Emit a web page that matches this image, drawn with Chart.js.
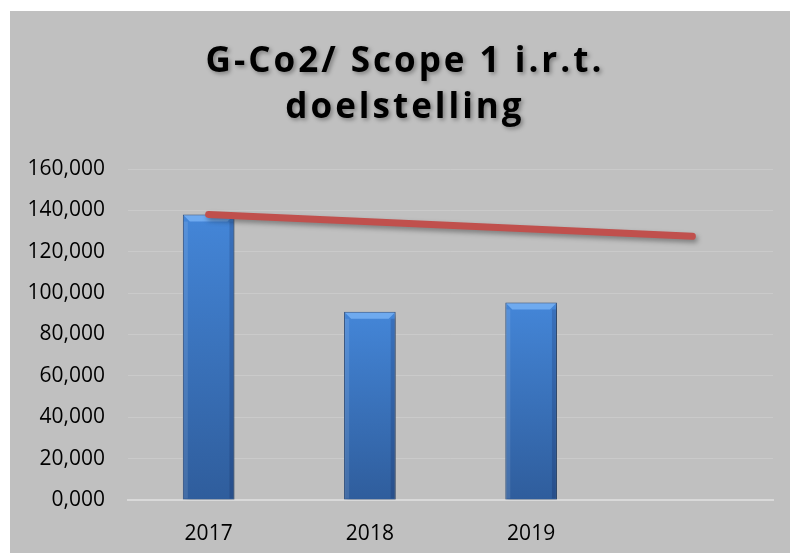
<!DOCTYPE html>
<html>
<head>
<meta charset="utf-8">
<script src="https://cdn.jsdelivr.net/npm/chart.js@4"></script>
<style>
  html, body { margin: 0; padding: 0; background: #ffffff; }
  #wrap { position: absolute; left: 10px; top: 11px; width: 780px; height: 542px; background: #c0c0c0; }
</style>
</head>
<body>
<div id="wrap"><canvas id="co2Chart" width="780" height="542"></canvas></div>
<script>
// Data
const years = ['2017', '2018', '2019', ''];
const scope1 = [138.0, 91.0, 95.5, null];
const target = [138.0, null, null, 127.5];
const titleLines = ['G-Co2/ Scope 1 i.r.t.', 'doelstelling'];
const yMin = 0;
const yMax = 160;
const yStep = 20;

const ctx = document.getElementById('co2Chart').getContext('2d');

// Title drawn with a soft shadow like the original
const titlePlugin = {
    id: 'shadowTitle',
    afterDraw(chart) {
        const c = chart.ctx;
        c.save();
        c.font = 'bold 35px "Open Sans"';
        c.letterSpacing = '3px';
        c.fillStyle = '#000000';
        c.textAlign = 'center';
        c.textBaseline = 'alphabetic';
        c.shadowColor = 'rgba(0,0,0,0.35)';
        c.shadowBlur = 4;
        c.shadowOffsetX = 2;
        c.shadowOffsetY = 2;
        const cx = chart.width / 2 + 5;
        c.fillText(titleLines[0], cx, 61);
        c.fillText(titleLines[1], cx, 107);
        c.restore();
    }
};

// Drop shadow under bars and line
const shadowPlugin = {
    id: 'dropShadow',
    beforeDatasetDraw(chart, args) {
        const c = chart.ctx;
        c.save();
        c.shadowColor = 'rgba(0,0,0,0.35)';
        c.shadowBlur = 5;
        c.shadowOffsetX = 2;
        c.shadowOffsetY = 3;
    },
    afterDatasetDraw(chart, args) {
        chart.ctx.restore();
        // bevel on top of the bars
        if (args.meta.type !== 'bar') return;
        const c = chart.ctx;
        const values = chart.data.datasets[args.index].data;
        c.save();
        args.meta.data.forEach((bar, i) => {
            if (values[i] == null) return;
            const l = bar.x - bar.width / 2;
            const r = bar.x + bar.width / 2;
            const t = bar.y;
            const b = bar.base;
            const d = 7;
            c.fillStyle = 'rgba(140,195,255,0.6)';
            c.beginPath();
            c.moveTo(l + 1, t + 1);
            c.lineTo(r - 1, t + 1);
            c.lineTo(r - d, t + d);
            c.lineTo(l + d, t + d);
            c.closePath();
            c.fill();
            c.fillStyle = 'rgba(255,255,255,0.10)';
            c.fillRect(l + 1, t + d, 4, b - t - d - 1);
            c.fillStyle = 'rgba(0,0,40,0.15)';
            c.fillRect(r - 5, t + d, 4, b - t - d - 1);
        });
        c.restore();
    }
};

function barGradient(context) {
    const chart = context.chart;
    const area = chart.chartArea;
    if (!area) return '#3f78c4';
    const v = context.raw;
    const top = v == null ? area.top : chart.scales.y.getPixelForValue(v);
    const g = chart.ctx.createLinearGradient(0, top, 0, area.bottom);
    g.addColorStop(0, '#4486d8');
    g.addColorStop(1, '#2f5d9c');
    return g;
}

const co2Chart = new Chart(ctx, {
    type: 'bar',
    data: {
        labels: years,
        datasets: [
            {
                type: 'line',
                label: 'Doelstelling',
                data: target,
                borderColor: '#c0504d',
                borderWidth: 7,
                borderCapStyle: 'round',
                pointRadius: 0,
                spanGaps: true,
                tension: 0,
                order: 0
            },
            {
                label: 'Scope 1',
                data: scope1,
                backgroundColor: barGradient,
                borderColor: '#2a4f84',
                borderWidth: 1,
                barPercentage: 0.4,
                categoryPercentage: 0.8,
                order: 1
            }
        ]
    },
    options: {
        responsive: false,
        animation: false,
        layout: { padding: { top: 158, right: 17, left: 0, bottom: 0 } },
        plugins: {
            legend: { display: false },
            title: { display: false },
            tooltip: { enabled: false }
        },
        scales: {
            x: {
                grid: { display: false },
                border: { display: true, color: '#d9d9d9', width: 2 },
                ticks: { color: '#000000', padding: 13, font: { family: 'Open Sans', size: 21 } },
                afterFit: scale => { scale.height = 53; }
            },
            y: {
                min: yMin,
                max: yMax,
                ticks: {
                    stepSize: yStep,
                    color: '#000000',
                    padding: 23,
                    font: { family: 'Open Sans', size: 21 },
                    callback: v => v.toFixed(3).replace('.', ',')
                },
                grid: { color: '#cacaca', lineWidth: 1, drawTicks: false },
                border: { display: false },
                afterFit: scale => { scale.width = 118; }
            }
        }
    },
    plugins: [titlePlugin, shadowPlugin]
});
</script>
</body>
</html>
